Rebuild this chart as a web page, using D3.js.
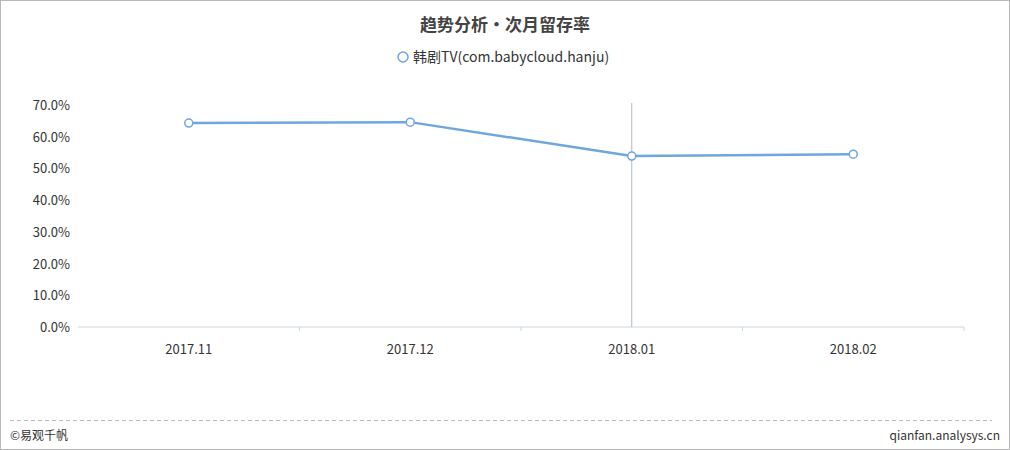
<!DOCTYPE html>
<html>
<head>
<meta charset="utf-8">
<script src="https://cdn.jsdelivr.net/npm/d3@7"></script>
<style>
  html, body { margin: 0; padding: 0; background: #fff; }
  svg { display: block; font-family: "Microsoft YaHei", "Noto Sans CJK SC", "DejaVu Sans", sans-serif; }
</style>
</head>
<body>
<svg id="chart" width="1010" height="450"></svg>
<script>
const months = ["2017.11", "2017.12", "2018.01", "2018.02"];
const retention = [0.643, 0.646, 0.539, 0.545];
const yTicks = [0, 0.1, 0.2, 0.3, 0.4, 0.5, 0.6, 0.7];
const seriesName = "韩剧TV(com.babycloud.hanju)";
const pointerMonth = "2018.01";

const svg = d3.select("#chart");
const W = 1010, H = 450;
const color = "#6fa6de";

// frame
svg.append("rect")
  .attr("x", 0.5).attr("y", 0.5)
  .attr("width", W - 1).attr("height", H - 1)
  .attr("fill", "#fff")
  .attr("stroke", "#b8b8b8");

svg.append("text")
  .attr("x", W / 2).attr("y", 31)
  .attr("text-anchor", "middle")
  .style("font-size", "17px")
  .style("font-weight", "bold")
  .style("fill", "#444")
  .text("趋势分析•次月留存率");

// legend
const legend = svg.append("g").attr("transform", "translate(403,57)");
legend.append("circle")
  .attr("r", 5)
  .attr("fill", "#fff")
  .attr("stroke", color)
  .attr("stroke-width", 1.5);
legend.append("text")
  .attr("x", 10).attr("y", 5)
  .style("font-size", "14px")
  .style("fill", "#333")
  .text(seriesName);

const x = d3.scaleBand().domain(months).range([78, 964]);
const y = d3.scaleLinear().domain([0, 0.7]).range([327, 105]);

// y axis labels
svg.append("g")
  .selectAll("text")
  .data(yTicks)
  .join("text")
  .attr("x", 70)
  .attr("y", d => y(d) + 5)
  .attr("text-anchor", "end")
  .style("font-size", "13px")
  .style("fill", "#333")
  .text(d3.format(".1%"));

// x axis
const xAxis = svg.append("g").attr("transform", "translate(0,327)");
xAxis.append("line")
  .attr("x1", x.range()[0]).attr("x2", x.range()[1])
  .attr("stroke", "#ccd6e0");
xAxis.selectAll(".tick")
  .data(months)
  .join("line")
  .attr("x1", d => x(d) + x.bandwidth())
  .attr("x2", d => x(d) + x.bandwidth())
  .attr("y1", 0).attr("y2", 4)
  .attr("stroke", "#ccd6e0");
xAxis.selectAll("text")
  .data(months)
  .join("text")
  .attr("x", d => x(d) + x.bandwidth() / 2)
  .attr("y", 27)
  .attr("text-anchor", "middle")
  .style("font-size", "13px")
  .style("fill", "#333")
  .text(d => d);

// axis pointer
const px = x(pointerMonth) + x.bandwidth() / 2;
svg.append("line")
  .attr("x1", px).attr("x2", px)
  .attr("y1", 103).attr("y2", 327)
  .attr("stroke", "#b0b8c4")
  .attr("stroke-width", 1);

const cx = d => x(d) + x.bandwidth() / 2;
const pts = months.map((m, i) => [cx(m), y(retention[i])]);

svg.append("path")
  .datum(pts)
  .attr("d", d3.line())
  .attr("fill", "none")
  .attr("stroke", color)
  .attr("stroke-width", 2.5);

svg.append("g")
  .selectAll("circle")
  .data(pts)
  .join("circle")
  .attr("cx", d => d[0])
  .attr("cy", d => d[1])
  .attr("r", 4)
  .attr("fill", "#fff")
  .attr("stroke", color)
  .attr("stroke-width", 1.5);

// footer
svg.append("line")
  .attr("x1", 10).attr("x2", 992)
  .attr("y1", 420.5).attr("y2", 420.5)
  .attr("stroke", "#bbb")
  .attr("stroke-dasharray", "4,3");
svg.append("text")
  .attr("x", 10).attr("y", 440)
  .style("font-size", "12px")
  .style("fill", "#333")
  .text("©易观千帆");
svg.append("text")
  .attr("x", 1000).attr("y", 440)
  .attr("text-anchor", "end")
  .style("font-size", "12px")
  .style("fill", "#333")
  .text("qianfan.analysys.cn");
</script>
</body>
</html>
